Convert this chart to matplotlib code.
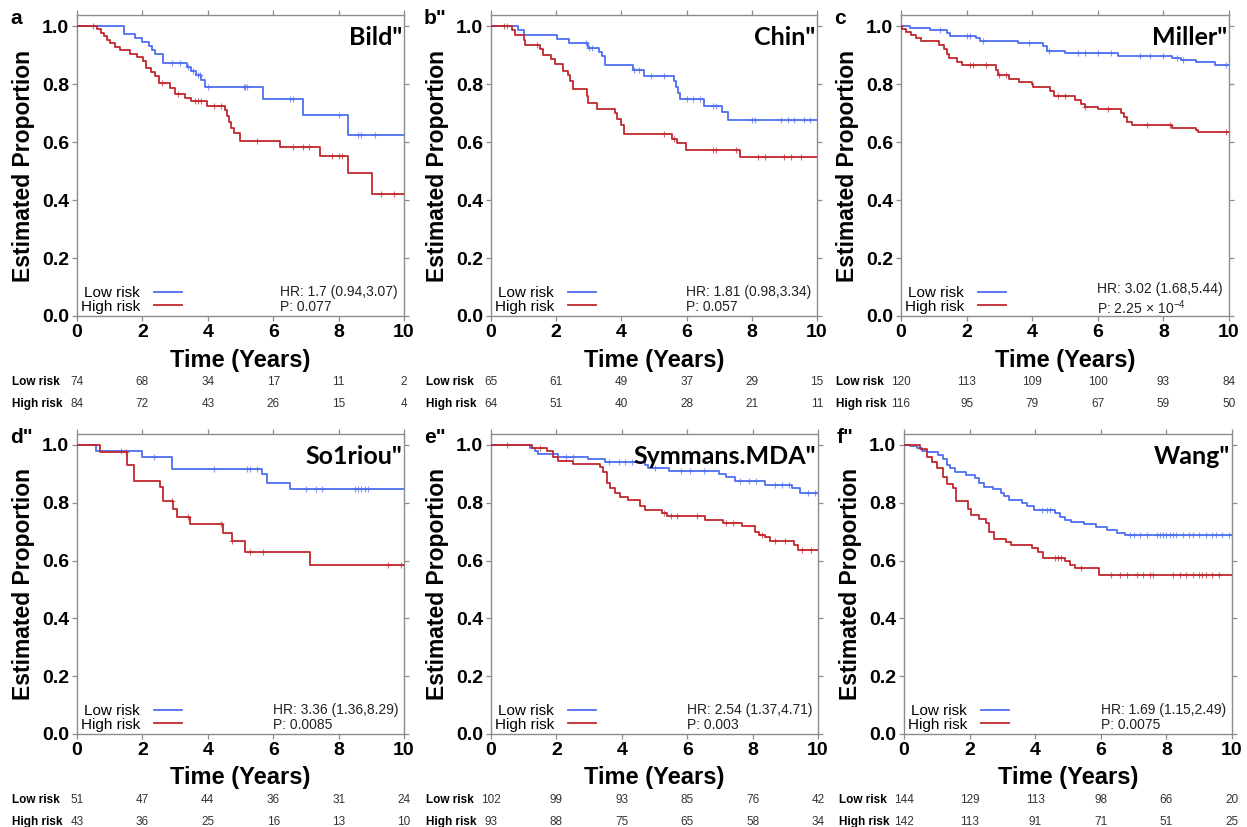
import matplotlib
matplotlib.use("Agg")
import matplotlib.pyplot as plt
import matplotlib.transforms as mtransforms
from matplotlib.lines import Line2D
from matplotlib.ticker import FormatStrFormatter, MultipleLocator
import numpy as np

plt.rcParams['font.family'] = ['Liberation Sans', 'DejaVu Sans']
plt.rcParams['mathtext.fontset'] = 'custom'
plt.rcParams['mathtext.rm'] = 'Liberation Sans'
plt.rcParams['mathtext.it'] = 'Liberation Sans'

# ---------------- data ----------------
panel_letters = ['a', 'b"', 'c', 'd"', 'e"', 'f"']
dataset_names = ['Bild"', 'Chin"', 'Miller"', 'So1riou"', 'Symmans.MDA"', 'Wang"']
hr_texts = ['HR: 1.7 (0.94,3.07)', 'HR: 1.81 (0.98,3.34)', 'HR: 3.02 (1.68,5.44)',
            'HR: 3.36 (1.36,8.29)', 'HR: 2.54 (1.37,4.71)', 'HR: 1.69 (1.15,2.49)']
p_texts = ['P: 0.077', 'P: 0.057', r'P: 2.25$\,\times\,$10$^{-4}$',
           'P: 0.0085', 'P: 0.003', 'P: 0.0075']
risk_times = [0, 2, 4, 6, 8, 10]
low_at_risk = [[74, 68, 34, 17, 11, 2], [65, 61, 49, 37, 29, 15], [120, 113, 109, 100, 93, 84],
               [51, 47, 44, 36, 31, 24], [102, 99, 93, 85, 76, 42], [144, 129, 113, 98, 66, 20]]
high_at_risk = [[84, 72, 43, 26, 15, 4], [64, 51, 40, 28, 21, 11], [116, 95, 79, 67, 59, 50],
                [43, 36, 25, 16, 13, 10], [93, 88, 75, 65, 58, 34], [142, 113, 91, 71, 51, 25]]

# Panel a (Bild)
a_low_t = [1.43, 1.78, 1.98, 2.2, 2.3, 2.4, 2.62, 3.35, 3.5, 3.65, 3.8, 3.92, 5.7, 6.9, 8.3]
a_low_s = [0.972, 0.958, 0.944, 0.93, 0.916, 0.902, 0.874, 0.86, 0.845, 0.83, 0.815, 0.788, 0.748, 0.694, 0.624]
a_low_c = [2.9, 3.15, 3.4, 3.55, 3.7, 3.75, 4.0, 5.1, 5.15, 5.2, 6.5, 6.6, 8.0, 8.6, 8.7, 9.1]
a_high_t = [0.62, 0.72, 0.82, 0.92, 1.02, 1.15, 1.3, 1.63, 1.83, 2.02, 2.12, 2.25, 2.38, 2.5, 2.85,
            3.0, 3.3, 3.5, 3.97, 4.53, 4.6, 4.66, 4.72, 4.79, 4.99, 6.21, 7.43, 8.3, 9.01]
a_high_s = [0.988, 0.976, 0.964, 0.952, 0.94, 0.928, 0.917, 0.905, 0.893, 0.878, 0.855, 0.843, 0.826, 0.803, 0.786,
            0.766, 0.752, 0.74, 0.725, 0.71, 0.69, 0.67, 0.65, 0.63, 0.603, 0.583, 0.553, 0.493, 0.42]
a_high_c = [0.5, 2.6, 3.1, 3.6, 3.7, 3.8, 4.2, 4.4, 5.5, 6.6, 6.9, 7.1, 7.8, 8.0, 8.1, 9.3, 9.7]

# Panel b (Chin)
b_low_t = [0.84, 1.02, 2.02, 2.4, 2.99, 3.3, 3.4, 3.5, 4.37, 4.68, 5.6, 5.68, 5.75, 5.8, 6.52, 7.08, 7.27]
b_low_s = [0.985, 0.97, 0.955, 0.94, 0.925, 0.91, 0.895, 0.866, 0.85, 0.826, 0.81, 0.79, 0.77, 0.748, 0.725, 0.705, 0.677]
b_low_c = [0.5, 2.9, 3.0, 3.1, 4.4, 4.55, 4.9, 5.3, 6.0, 6.2, 6.4, 6.8, 6.9, 8.0, 8.1, 8.9, 9.1, 9.3, 9.6, 9.8]
b_high_t = [0.63, 0.74, 1.0, 1.05, 1.5, 1.6, 1.84, 1.96, 2.22, 2.35, 2.42, 2.5, 2.94, 2.97, 3.25,
            3.79, 3.88, 4.0, 4.09, 5.55, 5.7, 5.98, 7.65]
b_high_s = [0.985, 0.97, 0.953, 0.935, 0.92, 0.9, 0.885, 0.868, 0.845, 0.83, 0.81, 0.783, 0.76, 0.733, 0.715,
            0.70, 0.68, 0.66, 0.628, 0.612, 0.595, 0.572, 0.548]
b_high_c = [0.4, 1.4, 5.3, 5.6, 6.8, 6.9, 7.5, 8.2, 8.4, 9.0, 9.2, 9.5]

# Panel c (Miller)
c_low_t = [0.27, 0.88, 1.39, 1.5, 2.3, 2.4, 3.58, 4.34, 4.45, 4.99, 6.63, 8.25, 8.55, 9.0, 9.57]
c_low_s = [0.992, 0.985, 0.975, 0.966, 0.958, 0.95, 0.94, 0.93, 0.915, 0.906, 0.897, 0.889, 0.883, 0.875, 0.866]
c_low_c = [1.2, 2.0, 2.1, 2.5, 3.9, 4.5, 5.4, 5.6, 6.0, 6.4, 7.3, 7.6, 8.0, 8.4, 8.6, 9.9]
c_high_t = [0.02, 0.15, 0.3, 0.45, 0.6, 1.15, 1.3, 1.4, 1.45, 1.7, 1.85, 2.9, 2.95, 3.3, 3.6, 4.0, 4.02,
            4.55, 4.65, 5.3, 5.5, 5.6, 6.0, 6.7, 6.8, 6.9, 7.05, 8.25, 9.0, 9.05]
c_high_s = [0.99, 0.98, 0.97, 0.96, 0.948, 0.935, 0.92, 0.905, 0.89, 0.877, 0.866, 0.85, 0.83, 0.817, 0.808,
            0.799, 0.789, 0.775, 0.757, 0.745, 0.73, 0.72, 0.714, 0.70, 0.685, 0.67, 0.659, 0.648, 0.643, 0.636]
c_high_c = [2.1, 2.2, 2.6, 3.0, 3.2, 4.8, 5.0, 5.6, 6.3, 7.5, 8.2, 9.9]

# Panel d (Sotiriou)
d_low_t = [0.59, 1.99, 2.9, 5.65, 5.8, 6.52]
d_low_s = [0.98, 0.96, 0.918, 0.9, 0.87, 0.846]
d_low_c = [1.35, 2.35, 4.2, 5.2, 5.3, 5.5, 7.0, 7.3, 7.5, 8.5, 8.6, 8.7, 8.8, 8.9]
d_high_t = [0.71, 1.53, 1.73, 2.55, 2.63, 2.95, 3.05, 3.46, 4.48, 4.73, 5.14, 7.13]
d_high_s = [0.977, 0.93, 0.877, 0.855, 0.805, 0.78, 0.752, 0.725, 0.694, 0.667, 0.629, 0.586]
d_high_c = [1.5, 2.9, 3.4, 4.4, 4.75, 5.3, 5.7, 9.5, 9.9]

# Panel e (Symmans.MDA)
e_low_t = [1.2, 1.35, 1.45, 2.06, 2.98, 3.5, 4.7, 4.8, 5.43, 6.96, 7.2, 7.47, 8.39, 9.2, 9.46]
e_low_s = [0.99, 0.98, 0.97, 0.96, 0.952, 0.94, 0.93, 0.92, 0.91, 0.9, 0.89, 0.874, 0.862, 0.85, 0.834]
e_low_c = [2.3, 2.5, 3.6, 3.9, 4.1, 4.3, 5.0, 5.8, 6.1, 6.5, 7.6, 7.9, 8.1, 8.7, 8.9, 9.1, 9.7, 9.9]
e_high_t = [1.24, 1.7, 1.9, 2.06, 2.52, 3.34, 3.44, 3.54, 3.65, 3.8, 3.95, 4.2, 4.56, 4.71, 5.22, 5.38,
            6.55, 7.1, 7.67, 8.08, 8.2, 8.39, 8.54, 9.26, 9.4]
e_high_s = [0.99, 0.98, 0.96, 0.945, 0.935, 0.925, 0.905, 0.87, 0.85, 0.835, 0.82, 0.808, 0.79, 0.775, 0.763, 0.753,
            0.74, 0.73, 0.72, 0.70, 0.69, 0.68, 0.668, 0.655, 0.636]
e_high_c = [0.5, 1.5, 5.3, 5.5, 5.7, 6.3, 7.2, 7.4, 8.3, 8.7, 9.0, 9.5, 9.8]

# Panel f (Wang)
f_low_t = [0.18, 0.4, 0.55, 0.7, 1.05, 1.2, 1.3, 1.4, 1.55, 1.9, 2.15, 2.3, 2.45, 2.7, 2.95, 3.05, 3.2,
           3.6, 3.75, 3.95, 4.6, 4.75, 4.9, 5.1, 5.5, 5.85, 6.2, 6.5, 6.75]
f_low_s = [0.995, 0.99, 0.98, 0.975, 0.965, 0.95, 0.93, 0.92, 0.905, 0.895, 0.885, 0.868, 0.855, 0.848, 0.835,
           0.822, 0.811, 0.80, 0.79, 0.776, 0.765, 0.75, 0.74, 0.735, 0.725, 0.715, 0.705, 0.695, 0.688]
f_low_c = [4.2, 4.35, 4.45, 6.9, 7.0, 7.2, 7.4, 7.7, 7.8, 7.9, 8.0, 8.1, 8.2, 8.3, 8.5, 8.7, 8.8, 9.0,
           9.2, 9.4, 9.5, 9.7, 9.9]
f_high_t = [0.5, 0.7, 0.85, 1.0, 1.2, 1.3, 1.5, 1.6, 1.95, 2.05, 2.3, 2.5, 2.6, 2.75, 3.1, 3.25, 3.9,
            4.1, 4.25, 4.9, 5.05, 5.2, 5.95]
f_high_s = [0.985, 0.96, 0.94, 0.92, 0.89, 0.865, 0.85, 0.807, 0.78, 0.759, 0.745, 0.73, 0.70, 0.675, 0.665,
            0.654, 0.645, 0.63, 0.608, 0.6, 0.585, 0.573, 0.55]
f_high_c = [4.6, 4.7, 4.8, 5.4, 6.3, 6.6, 6.8, 7.1, 7.3, 7.5, 7.6, 8.2, 8.4, 8.6, 8.8, 9.0, 9.1, 9.2, 9.4, 9.6]

curves = [
    (a_low_t, a_low_s, a_low_c, a_high_t, a_high_s, a_high_c),
    (b_low_t, b_low_s, b_low_c, b_high_t, b_high_s, b_high_c),
    (c_low_t, c_low_s, c_low_c, c_high_t, c_high_s, c_high_c),
    (d_low_t, d_low_s, d_low_c, d_high_t, d_high_s, d_high_c),
    (e_low_t, e_low_s, e_low_c, e_high_t, e_high_s, e_high_c),
    (f_low_t, f_low_s, f_low_c, f_high_t, f_high_s, f_high_c),
]

# ---------------- layout ----------------
W, H = 1247, 827
fig = plt.figure(figsize=(W / 100, H / 100), dpi=100)

# (left, top, right, bottom) in pixels
boxes = [(77, 15, 404, 316), (491, 15, 817, 316), (901, 15, 1229, 316),
         (77, 434, 404, 734), (491, 434, 818, 734), (904, 434, 1232, 734)]

BLUE = '#4d6ef2'
RED = '#c1272d'
GRAY = '#8c8c8c'


def step_arrays(t, s):
    x = [0.0] + list(t) + [10.0]
    y = [1.0] + list(s) + [s[-1]]
    return x, y


def surv_at(t, s, c):
    t = np.asarray(t)
    s = np.asarray(s)
    out = []
    for ci in c:
        idx = np.searchsorted(t, ci, side='right') - 1
        out.append(1.0 if idx < 0 else s[idx])
    return out


for i, (l, t, r, b) in enumerate(boxes):
    ax = fig.add_axes([l / W, 1 - b / H, (r - l) / W, (b - t) / H])
    lt, ls, lc, ht, hs, hc = curves[i]
    x, y = step_arrays(lt, ls)
    ax.step(x, y, where='post', color=BLUE, lw=1.3, zorder=3)
    ax.plot(lc, surv_at(lt, ls, lc), ls='none', marker='+', ms=4, mew=0.8, color=BLUE, alpha=0.7, zorder=3)
    x, y = step_arrays(ht, hs)
    ax.step(x, y, where='post', color=RED, lw=1.3, zorder=3)
    ax.plot(hc, surv_at(ht, hs, hc), ls='none', marker='+', ms=4, mew=0.8, color=RED, alpha=0.7, zorder=3)

    ax.set_xlim(0, 10)
    ax.set_ylim(0, 1.038)
    ax.xaxis.set_major_locator(MultipleLocator(2))
    ax.yaxis.set_major_locator(MultipleLocator(0.2))
    ax.yaxis.set_major_formatter(FormatStrFormatter('%.1f'))
    for sp in ax.spines.values():
        sp.set_color(GRAY)
        sp.set_linewidth(1.0)
    ax.tick_params(direction='out', length=3.5, width=0.9, color=GRAY, top=True, right=True,
                   labelsize=14, pad=2)
    for lab in ax.get_xticklabels() + ax.get_yticklabels():
        lab.set_fontweight('bold')
    ax.set_xlabel('Time (Years)', fontsize=17, fontweight='bold')
    ax.xaxis.set_label_coords(0.5, -0.108)
    ax.set_ylabel('Estimated Proportion', fontsize=16.5, fontweight='bold')
    ax.yaxis.set_label_coords(-0.128, 0.5)

    handles = [Line2D([], [], color=BLUE, lw=1.3), Line2D([], [], color=RED, lw=1.3)]
    ax.legend(handles, ['Low risk', 'High risk'], loc='lower left', bbox_to_anchor=(0.012, 0.008),
              frameon=False, markerfirst=False, fontsize=11, handlelength=1.85, handletextpad=0.9,
              labelspacing=-0.05, borderpad=0, borderaxespad=0)
    ax.text(0.982, 0.055, hr_texts[i] + '\n' + p_texts[i], transform=ax.transAxes, ha='right',
            va='center', multialignment='left', fontsize=10, linespacing=1.1, color='#222222')

    ax.text(0.994, 0.925, dataset_names[i], transform=ax.transAxes, ha='right', va='center',
            fontsize=18, fontweight='bold', family=['Lato', 'DejaVu Sans'])

    fig.text((l - 67) / W, 1 - (t + 9) / H, panel_letters[i], ha='left', va='baseline',
             fontsize=15, fontweight='bold')

    # number at risk table
    trans = mtransforms.blended_transform_factory(ax.transData, fig.transFigure)
    y_low = 1 - (b + 66) / H
    y_high = 1 - (b + 88) / H
    fig.text((l - 65) / W, y_low, 'Low risk', ha='left', va='center', fontsize=8.5, fontweight='bold')
    fig.text((l - 65) / W, y_high, 'High risk', ha='left', va='center', fontsize=8.5, fontweight='bold')
    for tt, nl, nh in zip(risk_times, low_at_risk[i], high_at_risk[i]):
        ax.text(tt, y_low, str(nl), transform=trans, ha='center', va='center', fontsize=8.5,
                color='#333333', clip_on=False)
        ax.text(tt, y_high, str(nh), transform=trans, ha='center', va='center', fontsize=8.5,
                color='#333333', clip_on=False)

fig.savefig('out.png', dpi=100)
